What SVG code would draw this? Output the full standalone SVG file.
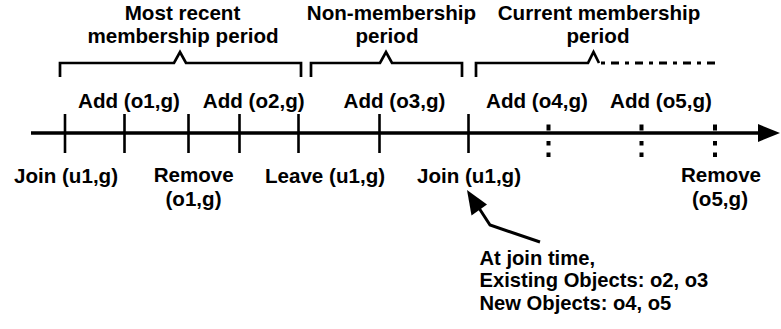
<svg xmlns="http://www.w3.org/2000/svg" width="781" height="329" viewBox="0 0 781 329">
<style>
text{font-family:"Liberation Sans",Arial,sans-serif;font-weight:bold;font-size:20.6px;fill:#000;text-anchor:middle}
.l{text-anchor:start;font-size:20.2px}
.br{fill:none;stroke:#000;stroke-width:2.7;stroke-linejoin:miter}
.tick{stroke:#000;stroke-width:2.6}
</style>
<g id="connectors">
<line x1="31" y1="133" x2="760" y2="133" stroke="#000" stroke-width="3.4"/>
<path d="M758,124 L780,133 L758,142 Z" fill="#000"/>
<path d="M540,242 L490,225 L477,205" fill="none" stroke="#000" stroke-width="3"/>
<path d="M467,190 L471.5,215.5 L487,204.5 Z" fill="#000"/>
</g>
<g id="ticks">
<line class="tick" x1="65" y1="114" x2="65" y2="153"/>
<line class="tick" x1="124.5" y1="114" x2="124.5" y2="153"/>
<line class="tick" x1="188.5" y1="114" x2="188.5" y2="153"/>
<line class="tick" x1="239.5" y1="114" x2="239.5" y2="153"/>
<line class="tick" x1="298.5" y1="114" x2="298.5" y2="153"/>
<line class="tick" x1="379.5" y1="114" x2="379.5" y2="153"/>
<line class="tick" x1="468.5" y1="114" x2="468.5" y2="153"/>
<g fill="#000">
<rect x="546.5" y="124.5" width="4" height="6"/><rect x="546.5" y="141" width="4" height="4.5"/><rect x="546.5" y="152.5" width="4" height="4.5"/>
<rect x="639.5" y="124.5" width="4" height="6"/><rect x="639.5" y="141" width="4" height="4.5"/><rect x="639.5" y="152.5" width="4" height="4.5"/>
<rect x="713" y="124.5" width="4" height="6"/><rect x="713" y="141" width="4" height="4.5"/><rect x="713" y="152.5" width="4" height="4.5"/>
</g>
</g>
<g id="most-recent">
<path class="br" d="M60,77 V63 H174 L180,52 L186,63 H301 V77"/>
<text x="182.5" y="19.5">Most recent</text>
<text x="183" y="42.5">membership period</text>
</g>
<g id="non-membership">
<path class="br" d="M311,77 V63 H380 L386,52 L392,63 H462 V77"/>
<text x="391.5" y="19.5">Non-membership</text>
<text x="387" y="42.5">period</text>
</g>
<g id="current">
<path class="br" d="M476,77 V63 H588 L593.5,52 L599,63"/>
<line x1="601" y1="63" x2="717" y2="63" stroke="#000" stroke-width="3.2" stroke-dasharray="4 6 8 6"/>
<text x="599" y="19.5">Current membership</text>
<text x="598" y="42.5">period</text>
</g>
<g id="adds">
<text x="129" y="108">Add (o1,g)</text>
<text x="253.7" y="108">Add (o2,g)</text>
<text x="394.5" y="108">Add (o3,g)</text>
<text x="537" y="108">Add (o4,g)</text>
<text x="661" y="108">Add (o5,g)</text>
</g>
<g id="events">
<text x="66" y="182.5">Join (u1,g)</text>
<text x="193.7" y="182">Remove</text>
<text x="193.5" y="206">(o1,g)</text>
<text x="325" y="182.5">Leave (u1,g)</text>
<text x="469" y="182.5">Join (u1,g)</text>
<text x="721" y="182">Remove</text>
<text x="720" y="206">(o5,g)</text>
</g>
<g id="note">
<text class="l" x="479.5" y="264.5">At join time,</text>
<text class="l" x="479.5" y="287.3">Existing Objects: o2, o3</text>
<text class="l" x="479.5" y="310">New Objects: o4, o5</text>
</g>
</svg>
